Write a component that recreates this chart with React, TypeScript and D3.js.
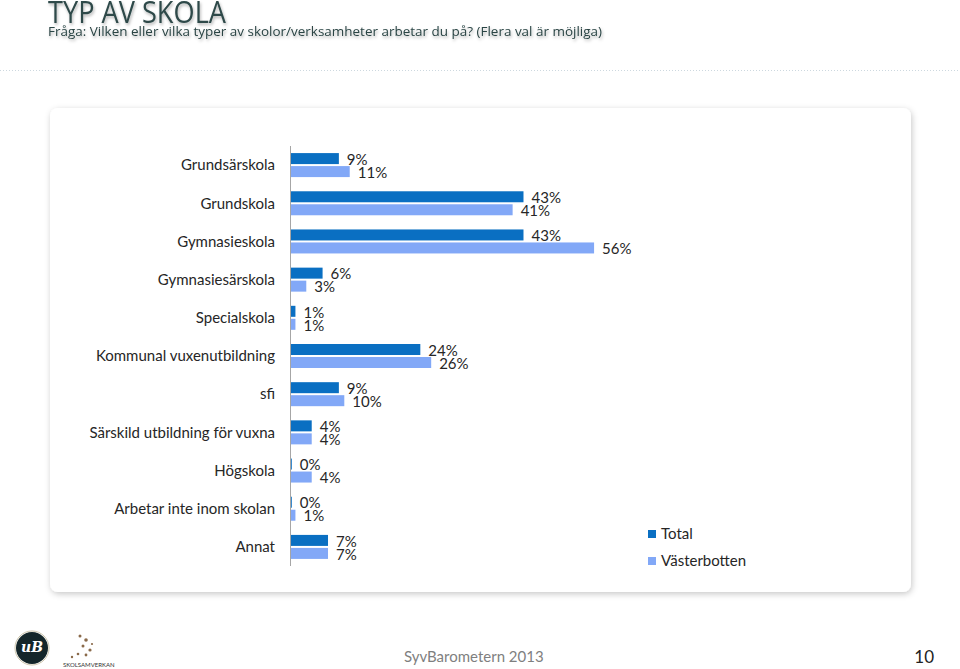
import React from "react";
import * as d3 from "d3";

const categories = [
  "Grundsärskola",
  "Grundskola",
  "Gymnasieskola",
  "Gymnasiesärskola",
  "Specialskola",
  "Kommunal vuxenutbildning",
  "sfi",
  "Särskild utbildning för vuxna",
  "Högskola",
  "Arbetar inte inom skolan",
  "Annat",
];
const totalValues = [9, 43, 43, 6, 1, 24, 9, 4, 0, 0, 7];
const vasterbottenValues = [11, 41, 56, 3, 1, 26, 10, 4, 4, 1, 7];
const seriesNames = ["Total", "Västerbotten"];
const seriesColors = ["#0a6fc2", "#82a8f7"];

const W = 960;
const H = 669;
const FONT = "Lato, 'Open Sans', sans-serif";

export default function App() {
  const x = d3.scaleLinear().domain([0, 100]).range([290, 290 + 543]);
  const y = d3.scaleBand<string>().domain(categories).range([146, 566]);
  const series = [totalValues, vasterbottenValues];
  const barH = 11;

  return (
    <svg
      width={W}
      height={H}
      style={{ position: "absolute", left: 0, top: 0, background: "#fff" }}
      fontFamily={FONT}
    >
      <defs>
        <filter id="cardShadow" x="-5%" y="-5%" width="110%" height="115%">
          <feDropShadow dx="1" dy="2" stdDeviation="3" floodColor="#000" floodOpacity="0.22" />
        </filter>
        <filter id="titleShadow" x="-5%" y="-20%" width="110%" height="160%">
          <feDropShadow dx="1" dy="2" stdDeviation="1.5" floodColor="#000" floodOpacity="0.3" />
        </filter>
      </defs>

      {/* header */}
      <text
        x={48}
        y={23}
        fontSize={31}
        fill="#2f4a4a"
        fontFamily="'Open Sans', sans-serif"
        textLength={178}
        lengthAdjust="spacingAndGlyphs"
        filter="url(#titleShadow)"
      >
        TYP AV SKOLA
      </text>
      <text
        x={48}
        y={36}
        fontSize={13.4}
        fill="#2a4444"
        fontFamily="'Open Sans', sans-serif"
        textLength={554}
        lengthAdjust="spacingAndGlyphs"
        filter="url(#titleShadow)"
      >
        Fråga: Vilken eller vilka typer av skolor/verksamheter arbetar du på? (Flera val är möjliga)
      </text>
      <line x1={0} x2={W} y1={70.5} y2={70.5} stroke="#cdd8df" strokeWidth={1} strokeDasharray="1 2" />

      {/* card */}
      <rect x={50} y={108} width={861} height={484} rx={8} fill="#fff" filter="url(#cardShadow)" />

      {/* category labels */}
      {categories.map((c) => (
        <text
          key={c}
          x={275}
          y={(y(c) ?? 0) + y.bandwidth() / 2}
          dy="0.35em"
          textAnchor="end"
          fontSize={15}
          fill="#262626"
        >
          {c}
        </text>
      ))}

      {/* bars */}
      {categories.map((c, i) => {
        const cy = (y(c) ?? 0) + y.bandwidth() / 2;
        return (
          <g key={c}>
            {series.map((vals, s) => {
              const v = vals[i];
              const w = Math.max(x(v) - x(0), 1.8);
              const by = s === 0 ? cy - 12 : cy + 1;
              return (
                <g key={s}>
                  <rect x={x(0)} y={by} width={w} height={barH} fill={seriesColors[s]} />
                  <text
                    x={x(0) + w + 8}
                    y={by + barH / 2 + 1}
                    dy="0.35em"
                    fontSize={15}
                    fill="#262626"
                  >
                    {v}%
                  </text>
                </g>
              );
            })}
          </g>
        );
      })}

      {/* axis line */}
      <line x1={290.5} x2={290.5} y1={146} y2={566} stroke="#a6a6a6" strokeWidth={1} />

      {/* legend */}
      {seriesNames.map((n, i) => (
        <g key={n} transform={`translate(648, ${530 + i * 27})`}>
          <rect x={0} y={0} width={8} height={8} fill={seriesColors[i]} />
          <text x={13} y={4} dy="0.35em" fontSize={15} fill="#262626">
            {n}
          </text>
        </g>
      ))}

      {/* footer */}
      <circle cx={32} cy={648} r={16} fill="#14262a" />
      <circle cx={32} cy={648} r={17} fill="none" stroke="#c9c2a8" strokeWidth={1} />
      <text x={32} y={652} textAnchor="middle" fontSize={14} fontStyle="italic" fontWeight="bold" fill="#fff" fontFamily="'DejaVu Serif', serif">
        uB
      </text>
      <g fill="#8a6a4a">
        <circle cx={80} cy={636} r={1.5} />
        <circle cx={86} cy={640} r={1.8} />
        <circle cx={83} cy={646} r={1.5} />
        <circle cx={90} cy={650} r={1.6} />
        <circle cx={86} cy={655} r={1.4} />
        <circle cx={78} cy={654} r={1.3} />
        <circle cx={72} cy={657} r={1.2} />
        <circle cx={92} cy={644} r={1.1} />
      </g>
      <text x={63} y={667} fontSize={6} fill="#333">SKOLSAMVERKAN</text>
      <text x={404} y={662} fontSize={15} fill="#7f7f7f">SyvBarometern 2013</text>
      <text x={934} y={663} textAnchor="end" fontSize={17} fill="#222">10</text>
    </svg>
  );
}
